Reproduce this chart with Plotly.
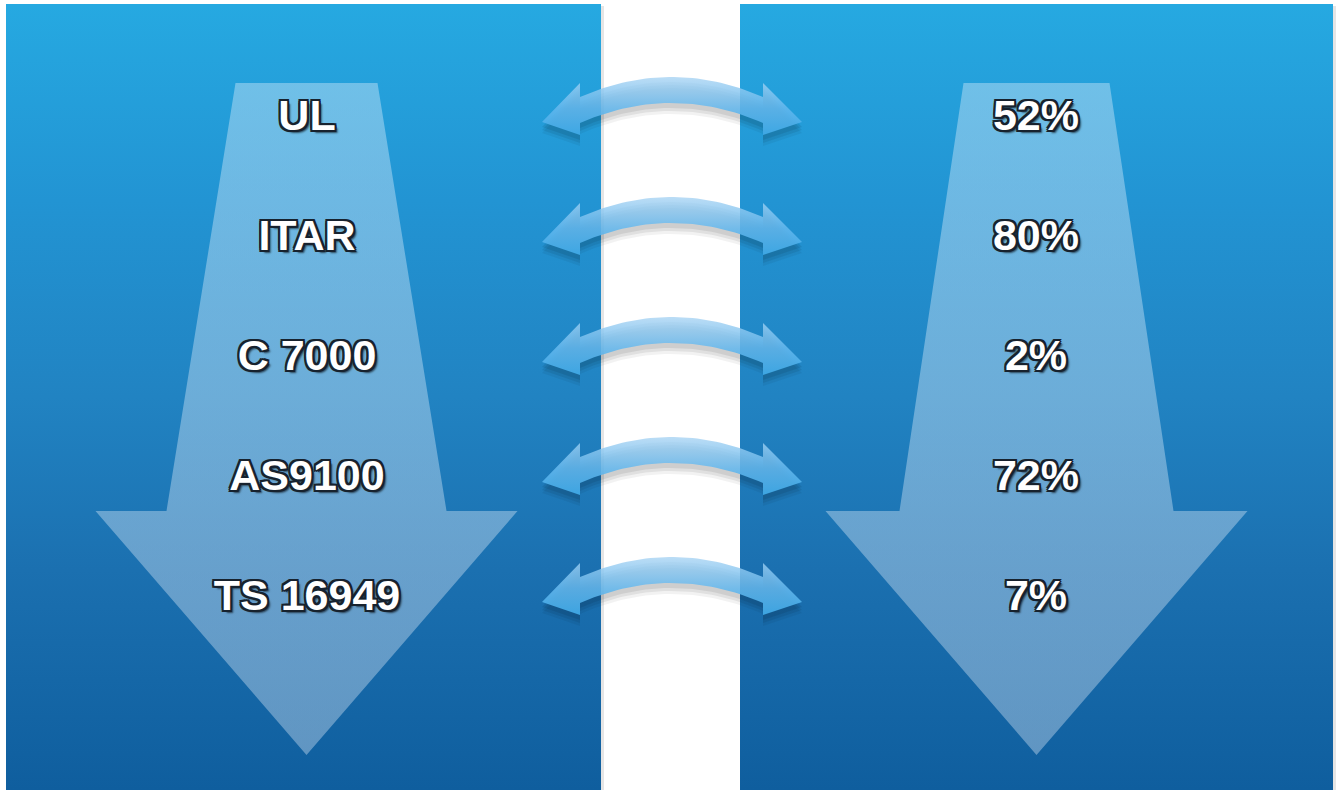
import numpy as np
import plotly.graph_objects as go

# ---- data ----
certifications = ["UL", "ITAR", "C 7000", "AS9100", "TS 16949"]
shares = [52, 80, 2, 72, 7]
share_labels = [f"{v}%" for v in shares]

W, H = 1337, 790
fig = go.Figure()

panel_scale = [[0.0, "#26a9e1"], [0.25, "#2294d3"], [0.5, "#2183c2"],
               [0.72, "#1b70b0"], [1.0, "#0f5e9e"]]

def panel(x0, x1, y0=4, y1=790):
    fig.add_trace(go.Scatter(
        x=[x0, x1, x1, x0, x0], y=[y0, y0, y1, y1, y0], mode="lines",
        line=dict(width=0), fill="toself",
        fillgradient=dict(type="vertical", colorscale=panel_scale, start=y0, stop=y1),
        hoverinfo="skip", showlegend=False))

# panel shadows
for x0, x1 in [(6, 601), (740, 1333)]:
    fig.add_trace(go.Scatter(x=[x0 + 1, x1 + 3, x1 + 3, x0 + 1, x0 + 1], y=[6, 6, 790, 790, 6],
                             mode="lines", line=dict(width=0), fill="toself",
                             fillcolor="rgba(0,0,0,0.10)", hoverinfo="skip", showlegend=False))
panel(6, 601)
panel(740, 1333)

arrow_scale = [[0.0, "rgba(215,235,250,0.42)"], [1.0, "rgba(225,235,248,0.38)"]]

def big_arrow(cx, top_half, neck_half, head_half, top=83, neck=511, tip=755):
    xs = [cx - top_half, cx + top_half, cx + neck_half, cx + head_half, cx,
          cx - head_half, cx - neck_half, cx - top_half]
    ys = [top, top, neck, neck, tip, neck, neck, top]
    fig.add_trace(go.Scatter(
        x=xs, y=ys, mode="lines", line=dict(width=0), fill="toself",
        fillgradient=dict(type="vertical", colorscale=arrow_scale, start=top, stop=tip),
        hoverinfo="skip", showlegend=False))

big_arrow(306.5, 71, 140, 211)
big_arrow(1036.5, 73, 137, 211)

# ---- double arrows ----
XL, XR = 580.0, 763.0
XC, HALF = (XL + XR) / 2, (XR - XL) / 2

def dbl_arrow_path(yc, dy=0.0):
    xs_line = np.linspace(XL, XR, 40)
    f = lambda x: yc - 12 - 20 * (1 - ((x - XC) / HALF) ** 2) + dy
    top = f(xs_line) - 13
    bot = f(xs_line) + 13
    xs = [542.0, XL]
    ys = [yc + dy, f(XL) - 27]
    xs += list(xs_line)
    ys += list(top)
    xs += [XR, 802.0, XR]
    ys += [f(XR) - 27, yc + dy, f(XR) + 25]
    xs += list(xs_line[::-1])
    ys += list(bot[::-1])
    xs += [XL, 542.0]
    ys += [f(XL) + 25, yc + dy]
    return xs, ys

dbl_scale = [[0.0, "rgba(170,212,243,0.80)"], [0.45, "rgba(100,184,238,0.86)"],
             [1.0, "rgba(48,165,230,0.94)"]]

for i in range(len(certifications)):
    yc = 122 + i * 120
    for dy, a in [(11, 0.05), (8, 0.07), (5, 0.08)]:
        xs, ys = dbl_arrow_path(yc, dy)
        fig.add_trace(go.Scatter(x=xs, y=ys, mode="lines", line=dict(width=0), fill="toself",
                                 fillcolor=f"rgba(0,0,0,{a})", hoverinfo="skip", showlegend=False))
    xs, ys = dbl_arrow_path(yc)
    fig.add_trace(go.Scatter(
        x=xs, y=ys, mode="lines", line=dict(width=0), fill="toself",
        fillgradient=dict(type="vertical", colorscale=dbl_scale, start=yc - 45, stop=yc + 25),
        hoverinfo="skip", showlegend=False))

# ---- labels ----
oc = "#17222e"
d = 2
shadow = (f"-{d}px -{d}px 0 {oc}, {d}px -{d}px 0 {oc}, -{d}px {d}px 0 {oc}, {d}px {d}px 0 {oc}, "
          f"0 -{d}px 0 {oc}, 0 {d}px 0 {oc}, -{d}px 0 0 {oc}, {d}px 0 0 {oc}, "
          f"3px 3.5px 2px rgba(0,0,0,0.6)")
tfont = dict(family="Liberation Sans, Arial, sans-serif", size=43, color="white",
             weight="bold", shadow=shadow)

label_y = [119 + i * 120 for i in range(len(certifications))]
fig.add_trace(go.Scatter(x=[307] * len(certifications), y=label_y, mode="text",
                         text=certifications, textfont=tfont, textposition="middle center",
                         hoverinfo="skip", showlegend=False))
fig.add_trace(go.Scatter(x=[1036] * len(shares), y=label_y, mode="text",
                         text=share_labels, textfont=tfont, textposition="middle center",
                         hoverinfo="skip", showlegend=False))

fig.update_layout(
    width=W, height=H, margin=dict(l=0, r=0, t=0, b=0),
    paper_bgcolor="white", plot_bgcolor="white",
    xaxis=dict(range=[0, W], visible=False, fixedrange=True),
    yaxis=dict(range=[H, 0], visible=False, fixedrange=True),
    showlegend=False,
)
fig.write_html("out.html", config={"displayModeBar": False},
               post_script="document.body.style.margin='0';document.body.style.overflow='hidden';")
